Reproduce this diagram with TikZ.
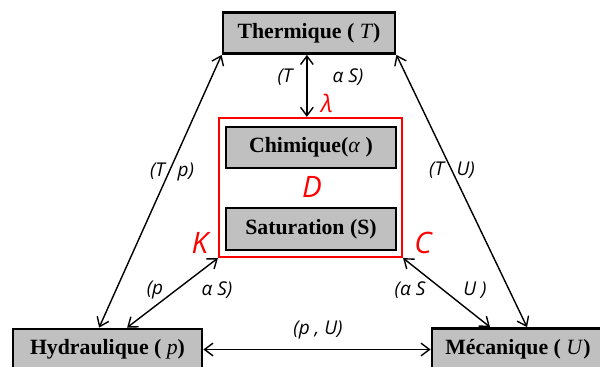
\documentclass[tikz,border=0pt]{standalone}
\usepackage{fontspec}
\setmainfont{Liberation Serif}
\newfontfamily\lblfont{Open Sans}
\usepackage{tikz}
\usetikzlibrary{arrows.meta}
\definecolor{BoxGray}{RGB}{192,192,192}
\definecolor{CoefRed}{RGB}{255,0,0}

\begin{document}
\begin{tikzpicture}[physbox/.style={draw=black,line width=2pt,fill=BoxGray,
 minimum width=4.3cm,minimum height=1.025cm,font=\fontsize{15.5}{17}\selectfont\bfseries},
 couple/.style={<->,>={Straight Barb[length=6pt,width=9pt]},line width=1pt},
 lbl/.style={font=\lblfont\itshape\fontsize{13.5}{15}\selectfont},
 coef/.style={text=CoefRed,font=\lblfont\itshape\fontsize{21}{23}\selectfont}]
\useasboundingbox (0,0) rectangle (15,9.175);
\node[physbox] (therm) at (7.725,8.35) {Thermique ( \textnormal{\textit{T}})};
\node[draw=CoefRed,line width=1.6pt,minimum width=4.575cm,minimum height=3.475cm] (reac) at (7.7625,4.4875) {};
\node[physbox,minimum width=4.25cm] (chim) at (7.775,5.4875) {Chimique(\textnormal{\textit{α}} )};
\node[physbox,minimum width=4.25cm,minimum height=1.05cm] (sat) at (7.775,3.45) {Saturation (S)};
\node[physbox,minimum width=4.725cm] (hyd) at (2.6875,0.4375) {Hydraulique ( \textnormal{\textit{p}})};
\node[physbox] (meca) at (12.95,0.45) {Mécanique ( \textnormal{\textit{U}})};
% couplings
\coordinate (vt) at ([xshift=-0.9mm]reac.north);
\draw[couple] (vt) -- (vt |- therm.south);
\draw[couple] (therm.south west) -- ([xshift=-2.1mm]hyd.north);
\draw[couple] (therm.south east) -- ([xshift=2.25mm]meca.north);
\draw[couple] (reac.south west) -- ([xshift=4.9mm]hyd.north);
\draw[couple] (reac.south east) -- ([xshift=-7mm]meca.north);
\draw[couple] (hyd.east) -- (hyd.east -| meca.west);
\foreach \nm/\x/\y/\txt in {ta/7.125/7.25/{(T},tb/8.7/7.25/{α S)},tp/4.3/4.875/{(T\hspace{9pt}p)},
 tu/11.3/4.925/{(T\hspace{9pt}U)},pa/3.875/1.925/{(p},pb/5.425/1.925/{α S)},
 ua/10.25/1.925/{(α S},ub/11.875/1.925/{U )},pu/7.95/0.925/{(p , U)}} {
 \node[lbl] (\nm) at (\x,\y) {\txt};
}
\foreach \nm/\x/\y/\txt in {kd/7.8/4.5/D,kk/5.0/3.1/K,kc/10.575/3.1/C} {
 \node[coef] (\nm) at (\x,\y) {\txt};
}
\node[coef,font=\lblfont\itshape\fontsize{17}{19}\selectfont] (klam) at (8.175,6.6) {λ};
\end{tikzpicture}
\end{document}
